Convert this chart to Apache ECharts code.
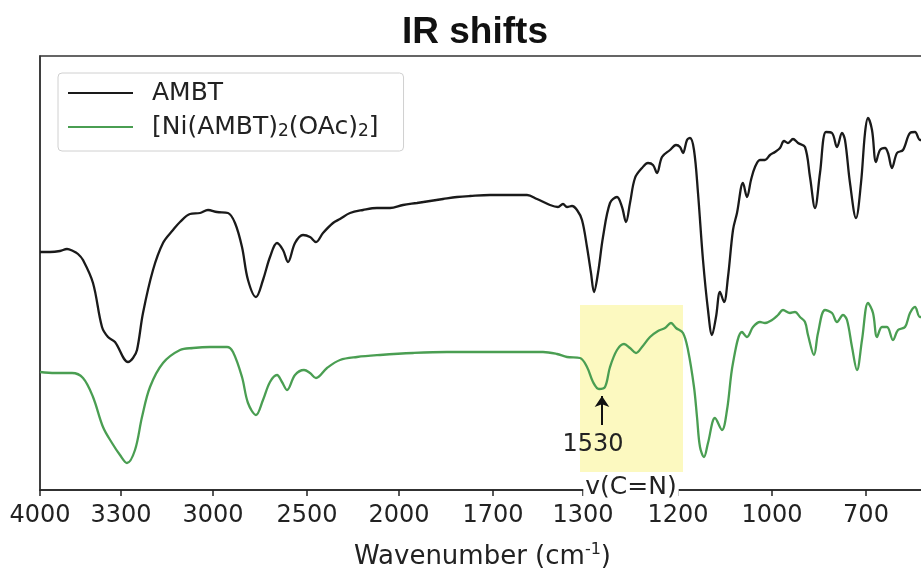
<!DOCTYPE html>
<html lang="en">

<head>
    <meta charset="UTF-8">
    <title>IR shifts</title>
    <script type="text/javascript" src="https://cdn.jsdelivr.net/npm/echarts@6/dist/echarts.min.js"></script>
    <style>
        html,
        body {
            margin: 0;
            padding: 0;
            background: #fff;
        }

        #main {
            width: 921px;
            height: 569px;
        }
    </style>
</head>

<body>
    <div id="main"></div>

    <script type="text/javascript">
        // x = position along the (broken) wavenumber axis, y = relative transmittance
        var tickPos = [0, 81, 173, 267, 359, 453, 543, 638, 732, 826];
        var tickLabels = ['4000', '3300', '3000', '2500', '2000', '1700', '1300', '1200', '1000', '700'];

        var ambt = [
            [0, 238], [10, 238], [20, 239], [27, 241], [33, 239], [38, 236], [43, 230], [53, 207], [62, 163], [68, 153],
            [75, 148], [88, 128], [93, 132], [97, 140], [103, 177], [113, 220], [123, 247], [133, 260], [140, 268],
            [150, 276], [160, 277], [168, 280], [177, 278], [188, 277], [195, 267], [202, 243], [208, 210], [216, 193],
            [223, 210], [230, 233], [237, 247], [243, 240], [248, 228], [255, 247], [263, 255], [270, 253], [276, 248],
            [283, 257], [293, 267], [300, 271], [310, 277], [323, 280], [337, 282], [350, 282], [363, 285], [377, 287],
            [390, 289], [403, 291], [417, 293], [430, 294], [450, 295], [470, 295], [487, 295], [497, 291], [510, 285],
            [518, 283], [523, 286], [527, 283], [532, 284], [537, 280], [542, 270], [547, 243], [551, 217], [554, 198],
            [558, 217], [563, 253], [570, 287], [577, 293], [582, 283], [586, 268], [590, 287], [595, 312], [602, 322],
            [608, 327], [613, 325], [617, 317], [622, 333], [630, 340], [636, 345], [640, 343], [643, 337], [647, 350],
            [650, 352], [654, 340], [658, 297], [663, 230], [668, 180], [672, 155], [676, 173], [680, 198], [684, 188],
            [688, 213], [693, 260], [697, 277], [703, 307], [707, 293], [711, 310], [715, 323], [720, 330], [725, 330],
            [730, 335], [735, 338], [740, 342], [744, 349], [748, 347], [753, 351], [758, 347], [765, 343], [770, 313],
            [775, 282], [780, 317], [786, 358], [792, 357], [797, 343], [802, 357], [805, 350], [810, 307], [816, 272],
            [821, 307], [825, 357], [828, 372], [832, 360], [836, 328], [840, 340], [845, 342], [848, 337], [852, 322],
            [857, 337], [863, 340], [870, 357], [875, 358], [880, 350], [885, 350]
        ];

        var niComplex = [
            [0, 118], [15, 117], [32, 117], [43, 112], [53, 93], [63, 63], [72, 47], [80, 35], [87, 27], [95, 40],
            [102, 73], [110, 103], [123, 127], [140, 140], [153, 142], [170, 143], [187, 143], [193, 138], [202, 113],
            [208, 87], [216, 75], [223, 90], [230, 108], [237, 115], [242, 108], [247, 100], [255, 115], [264, 120],
            [270, 117], [276, 112], [287, 122], [300, 130], [317, 133], [340, 135], [373, 137], [407, 138], [440, 138],
            [473, 138], [503, 138], [517, 136], [527, 133], [540, 132], [547, 123], [553, 108], [559, 101], [565, 103],
            [570, 123], [577, 140], [584, 146], [590, 142], [596, 137], [602, 143], [610, 153], [618, 159], [625, 162],
            [631, 167], [636, 162], [643, 157], [648, 140], [654, 103], [657, 73], [660, 43], [664, 33], [668, 47],
            [675, 72], [682, 60], [687, 80], [693, 127], [702, 158], [707, 153], [713, 163], [720, 168], [725, 167],
            [732, 170], [738, 175], [743, 180], [750, 177], [755, 178], [760, 173], [765, 168], [768, 155], [774, 135],
            [778, 157], [785, 180], [792, 177], [797, 168], [803, 175], [807, 170], [812, 143], [817, 120], [822, 150],
            [828, 187], [833, 177], [837, 153], [842, 163], [847, 163], [853, 150], [858, 160], [865, 163], [870, 177],
            [875, 183], [880, 173], [885, 173]
        ];

        // highlighted C=N region, arrow to the 1530 band
        var highlight = [[540, 18], [643, 185]];
        var arrow = [[562, 65], [562, 94]];
        var peakLabel = [553, 45];
        var bandLabel = [591, 3];

        var font = 'DejaVu Sans, sans-serif';
        var myChart = echarts.init(document.getElementById('main'));

        var option = {
            animation: false,
            title: {
                text: 'IR shifts',
                left: 397,
                top: 9,
                textStyle: {
                    fontFamily: 'Liberation Sans, Arial, sans-serif',
                    fontSize: 37,
                    fontWeight: 'bold',
                    color: '#111'
                }
            },
            legend: {
                orient: 'vertical',
                left: 58,
                top: 73,
                padding: [5, 25, 9, 10],
                itemGap: 4,
                itemWidth: 65,
                itemHeight: 2,
                icon: 'rect',
                borderColor: '#d0d0d0',
                borderWidth: 1,
                borderRadius: 4,
                formatter: function (name) {
                    if (name === 'AMBT') return name;
                    return '[Ni(AMBT){sub|2}(OAc){sub|2}]';
                },
                textStyle: {
                    fontFamily: font,
                    fontSize: 25,
                    lineHeight: 30,
                    color: '#222',
                    padding: [0, 0, 0, 14],
                    rich: {
                        sub: {
                            fontFamily: font,
                            fontSize: 17,
                            padding: [10, 0, 0, 0],
                            color: '#222'
                        }
                    }
                }
            },
            grid: {
                left: 40,
                right: -4,
                top: 56,
                bottom: 79,
                outerBoundsMode: 'none',
                containLabel: false,
                show: true,
                borderColor: '#333',
                borderWidth: 1.5
            },
            xAxis: {
                type: 'value',
                min: 0,
                max: 885,
                name: 'Wavenumber (cm{sup|-1})',
                nameLocation: 'middle',
                nameGap: 52,
                nameTextStyle: {
                    fontFamily: font,
                    fontSize: 26,
                    color: '#222',
                    rich: {
                        sup: {
                            fontFamily: font,
                            fontSize: 16,
                            padding: [0, 0, 14, 0],
                            color: '#222'
                        }
                    }
                },
                splitLine: { show: false },
                axisLine: {
                    show: true,
                    lineStyle: { color: '#222', width: 1.5 }
                },
                axisTick: {
                    show: true,
                    inside: false,
                    length: 6,
                    customValues: tickPos,
                    lineStyle: { color: '#222', width: 1.5 }
                },
                axisLabel: {
                    customValues: tickPos,
                    margin: 14,
                    fontFamily: font,
                    fontSize: 24,
                    color: '#222',
                    formatter: function (value) {
                        var i = tickPos.indexOf(value);
                        return i >= 0 ? tickLabels[i] : '';
                    }
                }
            },
            yAxis: {
                type: 'value',
                min: 0,
                max: 434,
                splitLine: { show: false },
                axisLabel: { show: false },
                axisTick: { show: false },
                axisLine: {
                    show: true,
                    lineStyle: { color: '#333', width: 1.5 }
                }
            },
            series: [{
                name: 'AMBT',
                type: 'line',
                data: ambt,
                z: 2,
                smooth: 0.35,
                symbol: 'none',
                lineStyle: { color: '#1a1a1a', width: 2.3 },
                itemStyle: { color: '#1a1a1a' },
                markArea: {
                    silent: true,
                    itemStyle: { color: '#fcf9c0', opacity: 1 },
                    data: [[{ coord: highlight[0] }, { coord: highlight[1] }]]
                },
                markLine: {
                    silent: true,
                    symbol: ['none', 'arrow'],
                    symbolSize: 11,
                    label: { show: false },
                    lineStyle: { color: '#111', width: 2, type: 'solid' },
                    data: [[{ coord: arrow[0] }, { coord: arrow[1] }]]
                },
                markPoint: {
                    silent: true,
                    symbol: 'circle',
                    symbolSize: 0,
                    data: [{
                        coord: peakLabel,
                        label: {
                            show: true,
                            position: 'inside',
                            formatter: '1530',
                            fontFamily: font,
                            fontSize: 24,
                            color: '#222'
                        }
                    }, {
                        coord: bandLabel,
                        label: {
                            show: true,
                            position: 'inside',
                            formatter: 'v(C=N)',
                            fontFamily: font,
                            fontSize: 25,
                            color: '#222',
                            backgroundColor: '#fff',
                            padding: [0, 2]
                        }
                    }]
                }
            }, {
                name: '[Ni(AMBT)2(OAc)2]',
                type: 'line',
                data: niComplex,
                z: 3,
                smooth: 0.35,
                symbol: 'none',
                lineStyle: { color: '#4a9e52', width: 2.3 },
                itemStyle: { color: '#4a9e52' }
            }]
        };

        myChart.setOption(option);
        window.addEventListener("resize", function () {
            myChart.resize();
        });
    </script>
</body>

</html>
